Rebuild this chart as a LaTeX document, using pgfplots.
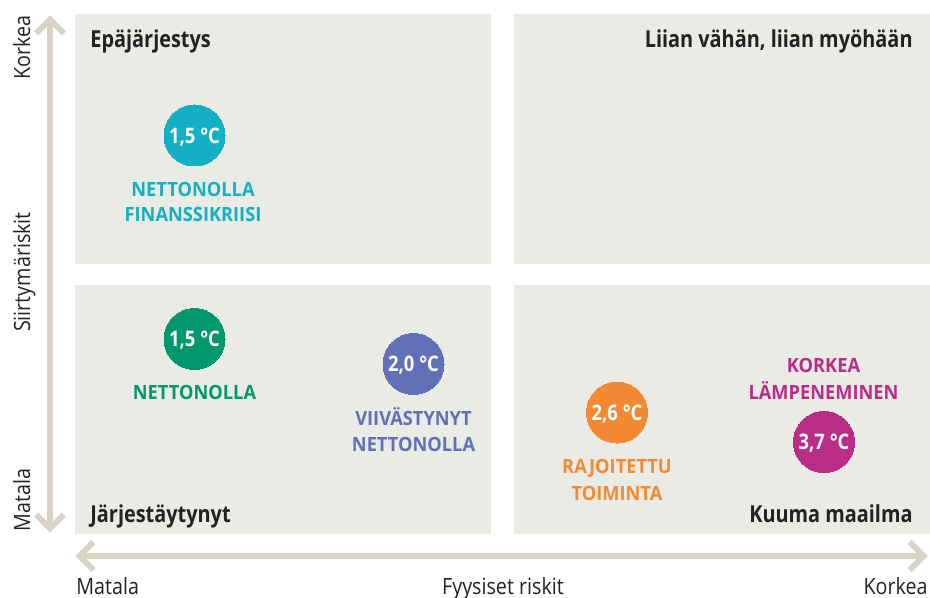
\documentclass[border=0pt]{standalone}
\usepackage{pgfplots}
\pgfplotsset{compat=1.18}
\usepackage{fontspec}
\setmainfont{Open Sans}[FakeStretch=0.88]
\newfontfamily\titlefont{Open Sans}[FakeStretch=0.85]
\newfontfamily\labfont{Open Sans}[FakeStretch=0.93]
\newfontfamily\circfont{Open Sans}[FakeStretch=0.86]
\definecolor{boxc}{HTML}{EBEBE6}
\definecolor{arrowc}{HTML}{D9D3C6}
\definecolor{txt}{HTML}{222222}
\definecolor{cyanc}{HTML}{13AFC3}
\definecolor{greenc}{HTML}{00986C}
\definecolor{bluec}{HTML}{6171B8}
\definecolor{orangec}{HTML}{F38A33}
\definecolor{magc}{HTML}{B92C88}
\begin{document}
\begin{tikzpicture}
\tikzset{
  lb/.style={anchor=base, font=\labfont\fontsize{9.8}{12}\bfseries, inner sep=0pt},
  qt/.style={text=txt, font=\titlefont\fontsize{11.7}{14}\bfseries, inner sep=0pt},
  al/.style={text=txt, font=\fontsize{11.2}{14}\selectfont, inner sep=0pt}}
\pgfplotsset{circ/.style={only marks, mark=*, mark size=15.25pt, color=#1,
  mark options={draw=#1, fill=#1, line width=0pt},
  nodes near coords, point meta=explicit symbolic,
  every node near coord/.style={anchor=center, text=white, inner sep=0pt,
    text height=7.6pt, text depth=0pt, font=\circfont\fontsize{10.7}{12}\bfseries}}}
\begin{axis}[name=ax, scale only axis, width=465pt, height=299pt,
  xmin=0, xmax=930, ymin=0, ymax=598, y dir=reverse, hide axis, clip=false]
% quadrants
\addplot[fill=boxc, draw=none] coordinates {(75,14) (491,14) (491,264) (75,264)};
\addplot[fill=boxc, draw=none] coordinates {(514,14) (930,14) (930,264) (514,264)};
\addplot[fill=boxc, draw=none] coordinates {(75,285) (491,285) (491,534) (75,534)};
\addplot[fill=boxc, draw=none] coordinates {(514,285) (930,285) (930,534) (514,534)};
% arrows
\addplot[arrowc, line width=3pt] coordinates {(50,20) (50,528)};
\addplot[arrowc, line width=3pt, line join=miter] coordinates {(36,33.5) (50,19.5) (64,33.5)};
\addplot[arrowc, line width=3pt, line join=miter] coordinates {(36,514.5) (50,528.5) (64,514.5)};
\addplot[arrowc, line width=3pt] coordinates {(80,556) (923,556)};
\addplot[arrowc, line width=3pt, line join=miter] coordinates {(93.5,542) (79.5,556) (93.5,570)};
\addplot[arrowc, line width=3pt, line join=miter] coordinates {(909.5,542) (923.5,556) (909.5,570)};
% circles
\addplot[circ=cyanc] coordinates {(194.5,135.5) [1,5 °C]};
\addplot[circ=greenc] coordinates {(194.5,339) [1,5 °C]};
\addplot[circ=bluec] coordinates {(413.5,364) [2,0 °C]};
\addplot[circ=orangec] coordinates {(617,412.5) [2,6 °C]};
\addplot[circ=magc] coordinates {(824,442) [3,7 °C]};
% labels
\node[lb, text=cyanc] at (axis cs:193,197) {NETTONOLLA};
\node[lb, text=cyanc] at (axis cs:193,222) {FINANSSIKRIISI};
\node[lb, text=greenc] at (axis cs:194.5,399) {NETTONOLLA};
\node[lb, text=bluec] at (axis cs:413.5,425) {VIIVÄSTYNYT};
\node[lb, text=bluec] at (axis cs:413.5,451) {NETTONOLLA};
\node[lb, text=orangec] at (axis cs:617,473) {RAJOITETTU};
\node[lb, text=orangec] at (axis cs:617,500) {TOIMINTA};
\node[lb, text=magc] at (axis cs:823.5,372) {KORKEA};
\node[lb, text=magc] at (axis cs:823.5,399) {LÄMPENEMINEN};
% quadrant titles
\node[qt, anchor=base west] at (axis cs:90,48) {Epäjärjestys};
\node[qt, anchor=base east] at (axis cs:913,48) {Liian vähän, liian myöhään};
\node[qt, anchor=base west] at (axis cs:90,522) {Järjestäytynyt};
\node[qt, anchor=base east] at (axis cs:913,522) {Kuuma maailma};
% axis labels
\node[al, rotate=90, anchor=base east] at (axis cs:30,15) {Korkea};
\node[al, rotate=90, anchor=base] at (axis cs:30,272) {Siirtymäriskit};
\node[al, rotate=90, anchor=base west] at (axis cs:30,532) {Matala};
\node[al, anchor=base west] at (axis cs:76,594) {Matala};
\node[al, anchor=base] at (axis cs:503,594) {Fyysiset riskit};
\node[al, anchor=base east] at (axis cs:928,594) {Korkea};
\end{axis}
\pgfresetboundingbox
\path (ax.south west) rectangle (ax.north east);
\end{tikzpicture}
\end{document}
